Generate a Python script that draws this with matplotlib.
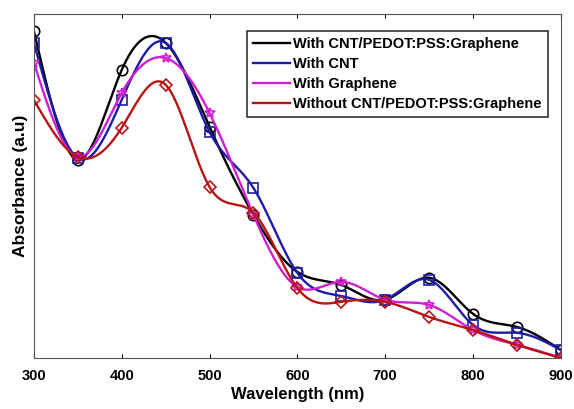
import numpy as np
import matplotlib.pyplot as plt

plt.rcParams["font.family"] = ["Liberation Sans", "DejaVu Sans"]

# ===== Data (absorbance, arbitrary units) =====
wavelength = [300, 350, 400, 450, 500, 550, 600, 650, 700, 750, 800, 850, 900]
abs_cnt_pedot_graphene = [0.951, 0.576, 0.837, 0.916, 0.672, 0.416, 0.250, 0.212, 0.169, 0.233, 0.128, 0.090, 0.023]
abs_cnt = [0.916, 0.581, 0.750, 0.916, 0.657, 0.494, 0.247, 0.180, 0.169, 0.227, 0.096, 0.073, 0.023]
abs_graphene = [0.858, 0.584, 0.770, 0.872, 0.712, 0.416, 0.206, 0.221, 0.169, 0.154, 0.081, 0.038, 0.0]
abs_without = [0.750, 0.584, 0.669, 0.794, 0.497, 0.422, 0.203, 0.163, 0.163, 0.119, 0.081, 0.038, 0.0]

SERIES = [
    ("With CNT/PEDOT:PSS:Graphene", abs_cnt_pedot_graphene, "black", "o"),
    ("With CNT", abs_cnt, "#1c1ca8", "s"),
    ("With Graphene", abs_graphene, "#d21ed2", "*"),
    ("Without CNT/PEDOT:PSS:Graphene", abs_without, "#b81414", "D"),
]


def natural_spline(x, y, xs):
    # plain natural cubic spline, only used to draw the smooth curve
    x = np.asarray(x, float)
    y = np.asarray(y, float)
    n = len(x)
    h = np.diff(x)
    A = np.zeros((n, n))
    b = np.zeros(n)
    A[0, 0] = A[-1, -1] = 1
    for i in range(1, n - 1):
        A[i, i - 1] = h[i - 1]
        A[i, i] = 2 * (h[i - 1] + h[i])
        A[i, i + 1] = h[i]
        b[i] = 3 * ((y[i + 1] - y[i]) / h[i] - (y[i] - y[i - 1]) / h[i - 1])
    c = np.linalg.solve(A, b)
    idx = np.clip(np.searchsorted(x, xs) - 1, 0, n - 2)
    dx = xs - x[idx]
    bb = (y[idx + 1] - y[idx]) / h[idx] - h[idx] * (2 * c[idx] + c[idx + 1]) / 3
    d = (c[idx + 1] - c[idx]) / (3 * h[idx])
    return y[idx] + bb * dx + c[idx] * dx ** 2 + d * dx ** 3


fig = plt.figure(figsize=(5.74, 4.09), dpi=100)
ax = fig.add_axes([0.059, 0.125, 0.918, 0.841])

xs = np.linspace(wavelength[0], wavelength[-1], 600)
for label, vals, color, marker in SERIES:
    ax.plot(xs, natural_spline(wavelength, vals, xs), color=color, lw=1.7, label=label)
    ax.plot(wavelength, vals, linestyle="none", marker=marker, mfc="none",
            mec=color, mew=1.2, ms=7.5 if marker != "D" else 6.5)

ax.set_xlim(300, 900)
ax.set_ylim(0, 1)
ax.set_xticks(range(300, 901, 100))
ax.set_yticks([])
ax.tick_params(axis="x", direction="in", top=True, length=3, labelsize=10.5, pad=8)
for lbl in ax.get_xticklabels():
    lbl.set_fontweight("bold")
for sp in ax.spines.values():
    sp.set_color("#555555")

ax.set_xlabel("Wavelength (nm)", fontsize=12, fontweight="bold", labelpad=3)
ax.set_ylabel("Absorbance (a.u)", fontsize=12.5, fontweight="bold", labelpad=4)

leg = ax.legend(loc="upper right", bbox_to_anchor=(0.975, 0.951),
                prop={"weight": "bold", "size": 10.5}, frameon=True, fancybox=False,
                handlelength=2.5, handletextpad=0.2, labelspacing=0.4, borderpad=0.45,
                borderaxespad=0)
leg.get_frame().set_edgecolor("black")
leg.get_frame().set_linewidth(1.2)

fig.savefig("out.png", dpi=100)
